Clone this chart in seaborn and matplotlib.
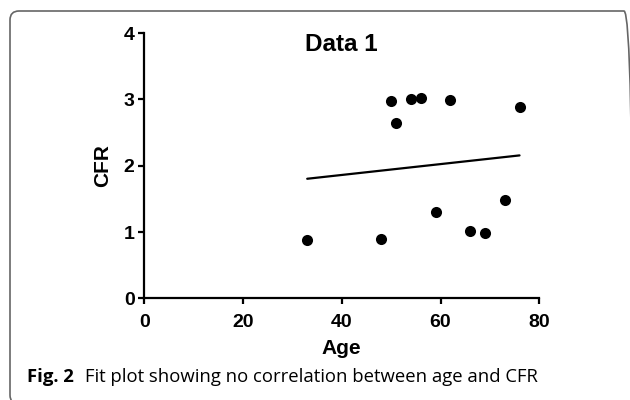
import seaborn as sns
import matplotlib.pyplot as plt
from matplotlib.patches import FancyBboxPatch
import pandas as pd

# Values
age = [33, 48, 50, 51, 54, 56, 62, 76, 59, 66, 69, 73]
cfr = [0.88, 0.90, 2.98, 2.64, 3.01, 3.03, 2.99, 2.89, 1.31, 1.01, 0.99, 1.49]
x_ticks = [0, 20, 40, 60, 80]
y_ticks = [0, 1, 2, 3, 4]

df = pd.DataFrame({'Age': age, 'CFR': cfr})

sns.set_style('ticks')
plt.rcParams['font.family'] = ['Liberation Sans', 'DejaVu Sans']
plt.rcParams['text.color'] = 'black'
plt.rcParams['axes.labelcolor'] = 'black'
plt.rcParams['xtick.color'] = 'black'
plt.rcParams['ytick.color'] = 'black'

fig = plt.figure(figsize=(6.3, 4.0), dpi=100)
ax = fig.add_axes([0.229, 0.254, 0.627, 0.663])

# Scatter with linear fit, no confidence band
sns.regplot(data=df, x='Age', y='CFR', ax=ax, ci=None, truncate=True,
            scatter_kws={'s': 64, 'color': 'black', 'alpha': 1, 'linewidths': 0},
            line_kws={'color': 'black', 'linewidth': 1.6})

ax.set_xlim(0, 80)
ax.set_ylim(0, 4)
ax.set_xticks(x_ticks)
ax.set_yticks(y_ticks)
ax.tick_params(direction='out', length=4, width=1.6, labelsize=14)
ax.tick_params(axis='x', pad=7)
ax.tick_params(axis='y', pad=3)
for lab in ax.get_xticklabels() + ax.get_yticklabels():
    lab.set_fontweight('bold')
for side in ['left', 'bottom']:
    ax.spines[side].set_linewidth(1.6)
    ax.spines[side].set_color('black')
sns.despine(ax=ax)

ax.set_xlabel('Age', fontsize=15, fontweight='bold', labelpad=6)
ax.set_ylabel('CFR', fontsize=15, fontweight='bold', labelpad=8)
ax.text(0.5, 1 - 11 / 265, 'Data 1', transform=ax.transAxes, fontsize=17.5,
        fontweight='bold', ha='center', va='center')

# Caption below the plot
fig.text(27 / 630, 1 - 377 / 400, 'Fig. 2', fontsize=13.3, fontweight='bold',
         family=['Open Sans', 'DejaVu Sans'], va='center', ha='left')
fig.text(85 / 630, 1 - 377 / 400, 'Fit plot showing no correlation between age and CFR',
         fontsize=13.3, family=['Open Sans', 'DejaVu Sans'], va='center', ha='left')

# Rounded frame around the figure
frame = FancyBboxPatch((10, -4), 623, 393, boxstyle='round,pad=0,rounding_size=9',
                       transform=None, fill=False, edgecolor='#666666', linewidth=1.2)
fig.patches.append(frame)

fig.savefig('out.png', dpi=100)
